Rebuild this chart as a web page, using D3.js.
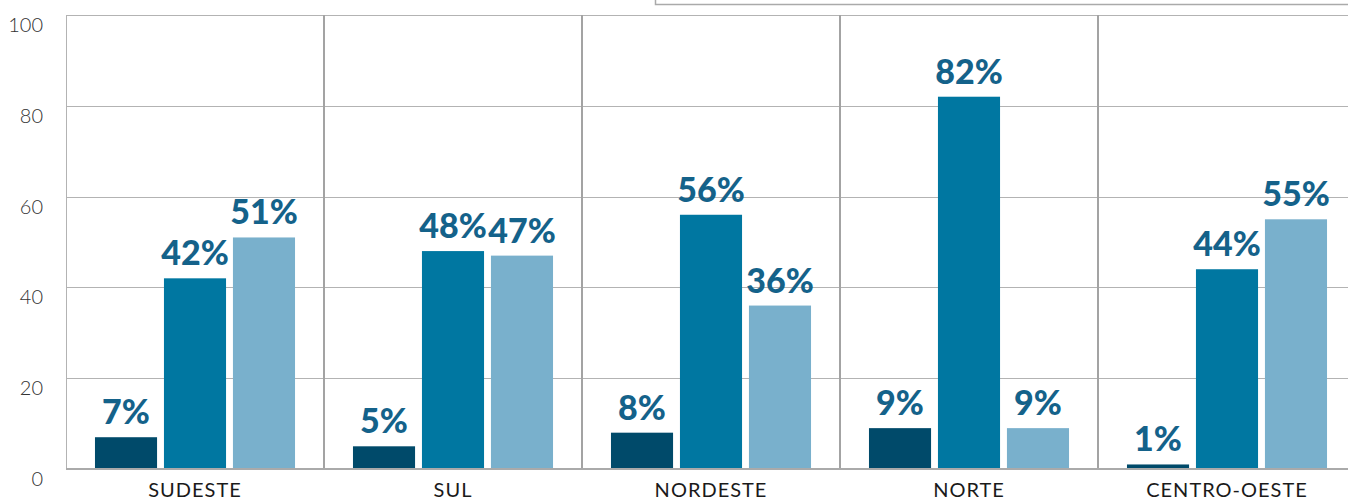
<!DOCTYPE html>
<html><head><meta charset="utf-8">
<script src="https://cdn.jsdelivr.net/npm/d3@7"></script>
<style>html,body{margin:0;padding:0;background:#fff;overflow:hidden}</style>
</head><body><svg id="c" width="1348" height="500"></svg>
<script>
const categories = ["SUDESTE","SUL","NORDESTE","NORTE","CENTRO-OESTE"];
const series = ["s1","s2","s3"];
const s1Values = [7,5,8,9,1];
const s2Values = [42,48,56,82,44];
const s3Values = [51,47,36,9,55];
const yTicks = [0,20,40,60,80,100];
const colors = ["#004a6a","#0077a1","#79b0cc"];

(function(){
const values = [s1Values,s2Values,s3Values];
const svg = d3.select("#c");
const mLeft = 66, mTop = 15, mBottom = 469;
const x0 = d3.scaleBand().domain(categories).range([mLeft, mLeft + 258*5]).padding(0);
const x1 = d3.scaleBand().domain(series).range([0, x0.bandwidth()]).paddingInner(0.1).paddingOuter(0.42);
const y = d3.scaleLinear().domain([0,100]).range([mBottom, mTop]);

svg.append("path").attr("d","M655.5,0V4.5H1348").attr("fill","none").attr("stroke","#aaa").attr("stroke-width",1.5);

svg.append("g").selectAll("line").data(yTicks.filter(d=>d>0)).join("line")
  .attr("x1",mLeft).attr("x2",1348).attr("y1",d=>Math.round(y(d))+0.5).attr("y2",d=>Math.round(y(d))+0.5)
  .attr("stroke","#b3b3b3").attr("stroke-width",1);
svg.append("line").attr("x1",mLeft+0.5).attr("x2",mLeft+0.5).attr("y1",mTop).attr("y2",mBottom).attr("stroke","#b3b3b3");
svg.append("g").selectAll("line").data(categories.slice(1)).join("line")
  .attr("x1",d=>x0(d)).attr("x2",d=>x0(d)).attr("y1",mTop).attr("y2",mBottom)
  .attr("stroke","#a3a3a3").attr("stroke-width",2);
svg.append("line").attr("x1",mLeft).attr("x2",1348).attr("y1",mBottom).attr("y2",mBottom).attr("stroke","#aaa").attr("stroke-width",2);

svg.append("g").selectAll("text").data(yTicks).join("text")
  .attr("x",43).attr("y",d=>y(d)+17).attr("text-anchor","end")
  .attr("font-family","Lato").attr("font-weight",300).attr("font-size",20).attr("fill","#333")
  .text(d=>d);

const g = svg.append("g").selectAll("g").data(categories).join("g")
  .attr("transform",d=>`translate(${x0(d)},0)`);
g.selectAll("rect").data((c,i)=>series.map((s,j)=>({s,j,v:values[j][i]}))).join("rect")
  .attr("x",d=>x1(d.s)).attr("width",x1.bandwidth())
  .attr("y",d=>y(d.v)).attr("height",d=>mBottom-1-y(d.v))
  .attr("fill",d=>colors[d.j]);
g.selectAll("text").data((c,i)=>series.map((s,j)=>({s,j,v:values[j][i]}))).join("text")
  .attr("x",d=>x1(d.s)+x1.bandwidth()/2).attr("y",d=>y(d.v)-13)
  .attr("text-anchor","middle").attr("font-family","Lato").attr("font-weight",900)
  .attr("font-size",34).attr("fill","#14628a").text(d=>d.v+"%");

svg.append("g").selectAll("text").data(categories).join("text")
  .attr("x",d=>x0(d)+x0.bandwidth()/2).attr("y",497)
  .attr("text-anchor","middle").attr("font-family","Lato").attr("font-size",20)
  .attr("letter-spacing",1).attr("fill","#1a1a1a")
  .text(d=>d);
})();
</script></body></html>
